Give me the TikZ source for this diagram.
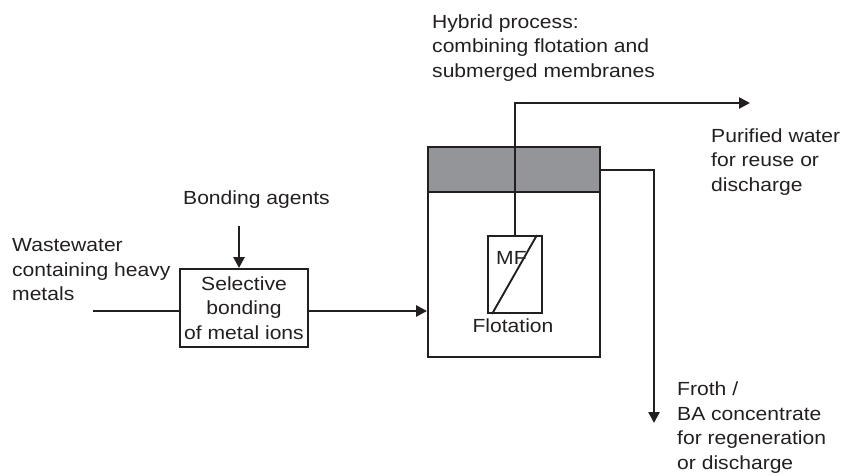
\documentclass[tikz,border=0pt]{standalone}
\usepackage{fontspec}
\setmainfont[FakeStretch=1.11]{Liberation Sans}
\usetikzlibrary{arrows.meta}
\definecolor{ink}{RGB}{35,31,32}
\definecolor{froth}{RGB}{148,149,152}
\begin{document}
\begin{tikzpicture}[x=1pt,y=-1pt,
  every node/.style={text=ink},
  txt/.style={font=\fontsize{19}{24.5}\selectfont},
  lbl/.style={txt,anchor=west,align=left,inner sep=0pt},
  boxed/.style={draw=ink,line width=1.9pt,inner sep=0pt},
  flow/.style={draw=ink,line width=2.5pt},
  arr/.style={flow,-{Triangle[length=11pt,width=11pt]}}]
\useasboundingbox (0,0) rectangle (843,476);
% tank
\node[boxed,minimum width=172pt,minimum height=210pt] (tank) at (514,252) {};
\node[boxed,fill=froth,minimum width=172pt,minimum height=45pt] (froth) at (514,169.5) {};
% MF box
\node[boxed,minimum width=54pt,minimum height=77pt] (mf) at (515,274.5) {};
\draw[ink,line width=1.9pt] ([xshift=5pt]mf.south west) -- ([xshift=-6pt]mf.north east);
\node[lbl] (mft) at (496,258) {MF};
\node[txt,inner sep=0pt] (flot) at (513,326) {Flotation};
% selective bonding box
\node[boxed,txt,minimum width=128pt,minimum height=78pt,align=center] (sel) at (244,308) {Selective\\bonding\\of metal ions};
% labels
\node[lbl] (hyb) at (432,48) {Hybrid process:\\combining flotation and\\submerged membranes};
\node[lbl] (pur) at (711,162) {Purified water\\for reuse or\\discharge};
\node[lbl] (bond) at (183,200) {Bonding agents};
\node[lbl] (ww) at (12,270) {Wastewater\\containing heavy\\metals};
\node[lbl] (frt) at (677,427.5) {Froth /\\BA concentrate\\for regeneration\\or discharge};
% connectors
\coordinate (win) at (93,311);
\coordinate (bin) at (239,226);
\coordinate (pout) at (750,103);
\coordinate (fsrc) at (600,170);
\coordinate (fout) at (654,423);
\draw[flow] (win) -- (win -| sel.west);
\draw[arr] (bin) -- (bin |- sel.north);
\draw[arr] (sel.east |- win) -- (tank.west |- win);
\draw[arr] (mf.north) |- (pout);
\draw[arr] (tank.east |- fsrc) -| (fout);
\end{tikzpicture}
\end{document}
